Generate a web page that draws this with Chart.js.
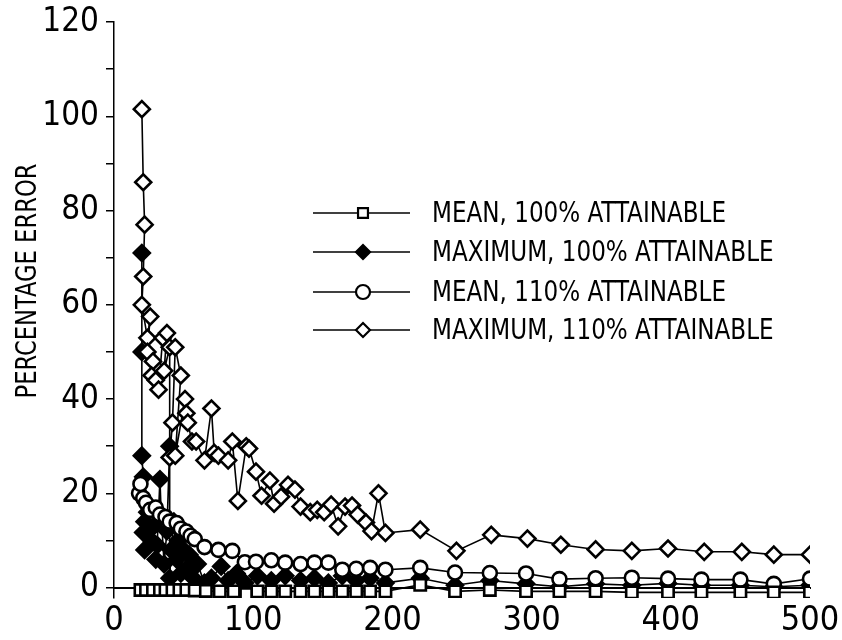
<!DOCTYPE html>
<html>
<head>
<meta charset="utf-8">
<script src="https://cdn.jsdelivr.net/npm/chart.js@4/dist/chart.umd.min.js"></script>
<style>
  html, body { margin: 0; padding: 0; background: #fff; }
</style>
</head>
<body>
<canvas id="chart" width="842" height="640"></canvas>
<script>
// Etiquetas
const seriesLabels = [
    "MEAN, 100% ATTAINABLE",
    "MAXIMUM, 100% ATTAINABLE",
    "MEAN, 110% ATTAINABLE",
    "MAXIMUM, 110% ATTAINABLE"
];
const yTitle = "PERCENTAGE ERROR";
const xTicks = [0, 100, 200, 300, 400, 500];
const yTicks = [0, 10, 20, 30, 40, 50, 60, 70, 80, 90, 100, 110, 120];

// Media, 100% alcanzable (cuadrados)
const meanX100 = [19, 23, 28, 33, 37, 42, 47, 52, 58, 66, 76, 86, 95, 103, 113, 123, 134, 144, 154, 164, 174, 184, 195, 220, 245, 270, 296, 320, 346, 372, 398, 422, 450, 474, 500];
const meanY100 = [-0.5, -0.5, -0.5, -0.5, -0.5, -0.5, -0.5, -0.5, -0.6, -0.7, -0.8, -0.8, -1.4, -0.8, -0.8, -0.8, -0.8, -0.8, -0.8, -0.8, -0.8, -0.8, -0.8, 0.6, -0.8, -0.5, -0.8, -0.8, -0.8, -1, -1, -1, -1, -1, -1];

// Máximo, 100% alcanzable (rombos rellenos)
const maxX100 = [20, 20, 20, 21, 22, 21, 23, 25, 22, 24, 27, 28, 30, 31, 33, 34, 36, 38, 40, 40, 41, 43, 45, 46, 48, 50, 52, 54, 57, 60, 65, 70, 77, 82, 88, 94, 103, 113, 123, 134, 144, 154, 164, 174, 184, 195, 220, 245, 270, 296, 320, 346, 372, 398, 422, 450, 474, 500];
const maxY100 = [71, 50, 28, 23.5, 14, 11.7, 18, 12, 8, 16, 10, 13, 6, 9, 23, 15, 5, 12, 30, 2, 8, 14, 6, 10, 3, 8, 4, 7, 2, 5, 1, 2, 4.5, 1.5, 3, 1, 2.5, 1.5, 2.5, 1.5, 2, 1, 2.5, 1.5, 2, 1, 2, 0.5, 1.5, 0.8, 0.2, 0.8, 0.5, 0.9, 0.5, 0.5, 0.2, 0.5];

// Media, 110% alcanzable (círculos)
const meanX110 = [18, 19, 21, 23, 26, 30, 33, 37, 40, 45, 48, 52, 55, 58, 65, 75, 85, 94, 102, 113, 123, 134, 144, 154, 164, 174, 184, 195, 220, 245, 270, 296, 320, 346, 372, 398, 422, 450, 474, 500];
const meanY110 = [20, 22, 19, 18, 16.5, 17, 15.5, 15, 14, 13.7, 12.5, 11.9, 11, 10.3, 8.6, 8, 7.8, 5.4, 5.5, 5.8, 5.3, 5, 5.3, 5.3, 3.8, 4, 4.2, 3.8, 4.2, 3.2, 3.1, 3, 1.8, 2, 2.1, 1.9, 1.7, 1.7, 0.8, 1.9];

// Máximo, 110% alcanzable (rombos vacíos)
const maxX110 = [20, 21, 22, 21, 20, 24, 26, 24, 28, 27, 30, 32, 35, 38, 36, 40, 40, 42, 44, 48, 44, 51, 52, 53, 56, 59, 65, 70, 72, 75, 82, 85, 89, 95, 97, 102, 106, 112, 115, 120, 125, 130, 134, 141, 146, 151, 156, 161, 166, 171, 175, 181, 185, 190, 195, 220, 246, 271, 297, 321, 346, 372, 398, 424, 451, 474, 500];
const maxY110 = [101.5, 86, 77, 66, 60, 53, 57.5, 50, 48, 45, 44, 42, 53, 54, 46, 51, 27.6, 35, 51, 45, 28, 40, 37, 35, 31, 31, 27, 38, 28.6, 28, 27, 31, 18.4, 30, 29.5, 24.6, 19.5, 22.7, 17.8, 19.3, 21.8, 20.8, 17.2, 16, 16.5, 16, 17.6, 13, 17.2, 17.4, 15.5, 13.8, 12, 20, 11.6, 12.3, 7.8, 11.2, 10.4, 9.1, 8.1, 7.8, 8.3, 7.6, 7.6, 7, 7];

const FONT = "'Liberation Sans Narrow', 'DejaVu Sans Condensed', sans-serif";

function toPoints(xs, ys) {
    return xs.map((x, i) => ({ x, y: ys[i] }));
}

function serie(label, xs, ys, style, fill, radius, order) {
    return {
        label,
        data: toPoints(xs, ys),
        showLine: true,
        borderColor: "#000",
        borderWidth: 1.6,
        pointStyle: style,
        pointRadius: radius,
        pointBorderWidth: 2.6,
        pointBorderColor: "#000",
        pointBackgroundColor: fill,
        order
    };
}

const datasets = [
    serie(seriesLabels[0], meanX100, meanY100, "rect", "#fff", 8, 0),
    serie(seriesLabels[1], maxX100, maxY100, "rectRot", "#000", 8, 3),
    serie(seriesLabels[2], meanX110, meanY110, "circle", "#fff", 7, 1),
    serie(seriesLabels[3], maxX110, maxY110, "rectRot", "#fff", 8, 2)
];

// Texto estrecho (la fuente original es condensada)
function narrowText(ctx, text, x, y, sx) {
    ctx.save();
    ctx.translate(x, y);
    ctx.scale(sx, 1);
    ctx.fillText(text, 0, 0);
    ctx.restore();
}

// Leyenda dentro del área y título del eje Y
const extras = {
    id: "extras",
    afterDraw(chart) {
        const ctx = chart.ctx;
        const rows = [213, 252, 292, 330];
        ctx.save();
        chart.data.datasets.forEach((ds, i) => {
            const y = rows[i];
            ctx.strokeStyle = "#000";
            ctx.lineWidth = 1.6;
            ctx.beginPath();
            ctx.moveTo(313, y);
            ctx.lineTo(410, y);
            ctx.stroke();
            ctx.fillStyle = ds.pointBackgroundColor;
            ctx.lineWidth = 2.2;
            Chart.helpers.drawPoint(ctx, { pointStyle: ds.pointStyle, radius: 7, borderWidth: 2.2 }, 363, y);
            ctx.fillStyle = "#000";
            ctx.font = "29px " + FONT;
            ctx.textAlign = "left";
            ctx.textBaseline = "middle";
            narrowText(ctx, ds.label, 432, y + 1, 0.885);
        });
        ctx.translate(29, 281);
        ctx.rotate(-Math.PI / 2);
        ctx.textAlign = "center";
        ctx.textBaseline = "middle";
        ctx.font = "28px " + FONT;
        narrowText(ctx, yTitle, 0, 0, 0.9);
        ctx.restore();
    }
};

new Chart(document.getElementById("chart").getContext("2d"), {
    type: "scatter",
    data: { datasets },
    plugins: [extras],
    options: {
        responsive: false,
        animation: false,
        layout: { padding: { left: 0, right: 32, top: 22, bottom: 42 } },
        plugins: { legend: { display: false }, tooltip: { enabled: false } },
        scales: {
            x: {
                type: "linear",
                min: 0,
                max: 500,
                position: { y: 0 },
                afterBuildTicks: s => { s.ticks = xTicks.map(v => ({ value: v })); },
                afterFit: s => { s.paddingLeft = 0; s.paddingRight = 0; },
                border: { color: "#000", width: 2 },
                grid: { display: false },
                ticks: { color: "#000", padding: 5, maxRotation: 0, font: { family: FONT, size: 34 } }
            },
            y: {
                min: -2.2,
                max: 120,
                afterFit: s => { s.width = 114; s.paddingTop = 0; s.paddingBottom = 0; },
                afterBuildTicks: s => { s.ticks = yTicks.map(v => ({ value: v })); },
                border: { color: "#000", width: 1.5 },
                grid: { drawOnChartArea: false, color: "#000", lineWidth: 1.5, tickLength: 8 },
                ticks: {
                    color: "#000",
                    padding: 7,
                    font: { family: FONT, size: 33 },
                    callback: v => (v % 20 === 0 ? v : "")
                }
            }
        }
    }
});
</script>
</body>
</html>
